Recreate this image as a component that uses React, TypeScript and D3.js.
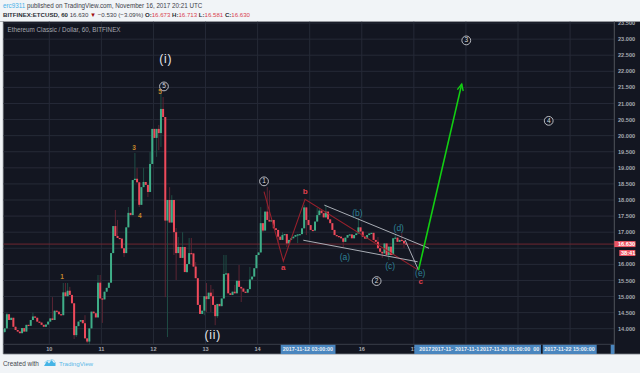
import React from "react";
import * as d3 from "d3";

// Hourly closes; each candle opens at the previous close.
const firstOpen = 13.9;
const closes = [
  14.01, 14.45, 14.27, 14.34, 14.06, 13.96, 13.91, 13.86, 14.02, 13.91, 14.12, 14.09, 14.27, 14.38, 14.34, 14.22,
  14.19, 14.12, 14.06, 14.13, 14.22, 14.32, 14.27, 14.56, 14.53, 14.45, 14.42, 15.13, 15.01, 15.18, 15.05, 14.79,
  13.8, 14.08, 14.22, 14.27, 14.17, 13.7, 13.6, 14.01, 14.53, 14.48, 14.35, 15.43, 14.94, 14.91, 15.15, 15.27,
  15.43, 16.35, 17.19, 16.88, 16.82, 16.8, 16.5, 16.35, 17.15, 17.6, 17.53, 18.62, 18.66, 18.55, 17.85, 18.4,
  18.56, 18.47, 18.25, 19.12, 20.21, 19.93, 20.21, 20.08, 20.83, 20.58, 17.36, 18.0, 17.3, 18.0, 17.0, 16.35,
  16.54, 16.2, 16.54, 15.76, 16.01, 16.35, 16.34, 15.93, 15.57, 14.74, 14.46, 14.56, 15.01, 14.92, 15.12, 15.01,
  14.74, 14.39, 14.77, 14.7, 14.94, 15.7, 15.72, 15.1, 15.05, 15.15, 15.1, 15.49, 15.3, 15.25, 15.15, 15.12,
  15.23, 15.53, 15.62, 15.88, 16.29, 16.37, 17.28, 17.05, 17.64, 17.38, 17.33, 17.38, 17.12, 17.07, 16.86, 16.76,
  16.91, 16.94, 16.65, 16.76, 16.81, 16.86, 16.91, 16.93, 16.94, 17.12, 17.77, 17.38, 17.22, 17.07, 17.05, 17.33,
  17.53, 17.67, 17.59, 17.46, 17.64, 17.4, 17.28, 17.07, 16.91, 16.88, 16.86, 16.81, 16.7, 16.83, 16.91, 16.93,
  16.81, 16.91, 16.96, 17.15, 17.02, 16.86, 16.8, 16.91, 16.96, 16.98, 16.76, 16.7, 16.5, 16.39, 16.34, 16.65,
  16.29, 16.55, 16.29, 16.81, 16.83, 16.7, 16.76, 16.73, 16.65, 16.63,
];
// Candles with a visible wick: [candle, price]
const wickHighs = [
  [1, 14.5], [13, 14.5], [22, 14.98], [27, 15.42], [28, 15.42], [29, 15.42], [30, 15.3], [37, 14.42], [43, 15.67],
  [44, 15.67], [45, 14.95], [51, 17.69], [52, 17.38], [57, 17.78], [60, 19.46], [61, 19.0], [64, 19.0], [67, 19.49],
  [71, 20.33], [72, 21.42], [73, 21.2], [76, 18.4], [77, 18.15], [79, 17.13], [80, 16.85], [82, 17.0], [85, 16.82],
  [86, 16.82], [88, 16.07], [93, 15.42], [95, 15.36], [96, 15.23], [101, 16.29], [102, 16.29], [106, 15.36],
  [108, 15.98], [113, 15.92], [118, 17.78], [121, 18.4], [122, 18.3], [128, 17.0], [138, 17.85], [144, 17.75],
  [145, 17.75], [148, 17.85], [163, 17.44], [172, 16.85], [180, 16.91], [183, 16.97],
];
const wickLows = [
  [0, 13.87], [32, 13.68], [33, 13.74], [38, 13.55], [39, 13.49], [45, 14.18], [55, 16.23], [62, 17.78], [66, 18.09],
  [70, 19.34], [71, 19.55], [72, 19.65], [74, 14.98], [75, 13.74], [78, 16.29], [79, 15.51], [84, 15.73], [92, 14.42],
  [93, 14.52], [95, 14.52], [97, 14.11], [98, 14.33], [109, 14.83], [119, 17.0], [126, 16.66], [130, 16.54],
  [135, 16.66], [139, 16.91], [156, 16.54], [173, 16.45], [174, 16.2], [177, 16.13], [184, 16.51],
];

const priceTicks = [14, 14.5, 15, 15.5, 16, 17, 17.5, 18, 18.5, 19, 19.5, 20, 20.5, 21, 21.5, 22, 22.5, 23, 23.5];
const gridPrices = [...priceTicks, 16.5];
const firstDayCandle = 20.55;
const dayLines = ["10", "11", "12", "13", "14", "15", "16", "17", "18", "19", "20"];
const shownDays = ["10", "11", "12", "13", "14", "16", "17"];
const lastPrice = 16.63;

// Drawings, as [candle, price]
const redWave = [[119.5, 18.26], [128.4, 16.1], [138.4, 18.02], [190.7, 15.82]];
const channelTop = [[147.3, 17.84], [195.5, 16.5]];
const channelBottom = [[137.6, 16.75], [190.3, 16.08]];
const greyLeg = [[184.5, 16.76], [190.7, 15.82]];
const greenLeg = [[190.7, 15.82], [210.6, 21.6]];

const circled: [number, number, string][] = [
  [73.4, 21.53, "5"], [119.5, 18.58, "1"], [171.4, 15.48, "2"], [212.7, 22.96, "3"], [250.7, 20.46, "4"],
];
const orangeLabels: [number, number, string][] = [
  [71.6, 21.36, "5"], [59.6, 19.62, "3"], [62.3, 17.48, "4"], [26.4, 15.6, "1"],
];
const redLabels: [number, number, string][] = [[128.4, 15.88, "a"], [138.5, 18.24, "b"], [191.7, 15.47, "c"]];
const tealLabels: [number, number, string][] = [
  [156.8, 16.19, "(a)"], [162.5, 17.56, "(b)"], [177.6, 15.91, "(c)"], [181.6, 17.12, "(d)"], [191.5, 15.72, "(e)"],
];
const whiteLabels: [number, number, string][] = [[74.2, 22.35, "(i)"], [95.9, 13.79, "(ii)"]];

const axisBoxes: [number, number][] = [[280.7, 335.5], [414.3, 541], [542.7, 596.7], [610.7, 614.3]];
const axisBoxTexts: [number, string][] = [
  [282.7, "2017-11-12 03:00:00"], [419.3, "2017"], [431.7, "2017-11-"], [455, "2017-11-1"],
  [480, "2017-11-20 01:00:00"], [533.3, "00"], [544.3, "2017-11-22 15:00:00"],
];

const W = 640, H = 373;
const L = 3.3, R = 614.3, T = 21.5, AXIS = 344.3, B = 354;
const BG = "#131621", GRID = "#262a37", UP = "#3fae88", DOWN = "#ee4a5b", UPW = "#1f4d45", DOWNW = "#5c2533";
const SANS = "'Liberation Sans', Arial, sans-serif";

const x = d3.scaleLinear().domain([0, 100]).range([4.7, 221.7]);
const y = d3.scaleLinear().domain([14, 18]).range([328.7, 200]);
const line = d3.line<number[]>().x((d) => x(d[0])).y((d) => y(d[1]));
const fmt = d3.format(".3f");

export default function App() {
  const highs = new Map(wickHighs as [number, number][]);
  const lows = new Map(wickLows as [number, number][]);
  const candles = closes.map((c, i) => {
    const o = i === 0 ? firstOpen : closes[i - 1];
    return { i, o, c, h: highs.get(i) ?? Math.max(o, c), l: lows.get(i) ?? Math.min(o, c) };
  });
  const dayX = new Map(dayLines.map((d, k) => [d, x(firstDayCandle + 24 * k)]));
  const tip = greenLeg[1];
  const [tx, ty] = [x(tip[0]), y(tip[1])];
  const [fx, fy] = [x(greenLeg[0][0]), y(greenLeg[0][1])];
  const ang = Math.atan2(ty - fy, tx - fx);
  const head = [ang + 2.7, ang - 2.7].map((a) => [tx + 7 * Math.cos(a), ty + 7 * Math.sin(a)]);

  return (
    <svg width={W} height={H} viewBox={`0 0 ${W} ${H}`}
      style={{ position: "fixed", left: 0, top: 0, fontFamily: SANS, background: "#f1f4f7" }}>
      <defs>
        <clipPath id="plot"><rect x={L} y={T} width={R - L} height={AXIS - T} /></clipPath>
        <clipPath id="chart"><rect x={L} y={T} width={W - L} height={B - T} /></clipPath>
      </defs>

      <text x={3} y={8.3} fontSize={6.28} fill="#3c4048">
        <tspan fill="#45b0e8">erc9311</tspan> published on TradingView.com, November 16, 2017 20:21 UTC
      </text>
      <text x={3} y={17} fontSize={6.1} fill="#3c4048">
        <tspan fontWeight="bold" fill="#2a2d33">BITFINEX:ETCUSD, 60</tspan> 16.630{" "}
        <tspan fill="#a01010">▼</tspan> −0.530 (−3.09%){" "}
        <tspan fontWeight="bold" fill="#2a2d33">O:</tspan><tspan fill="#d9434f">16.673</tspan>{" "}
        <tspan fontWeight="bold" fill="#2a2d33">H:</tspan><tspan fill="#d9434f">16.713</tspan>{" "}
        <tspan fontWeight="bold" fill="#2a2d33">L:</tspan><tspan fill="#d9434f">16.581</tspan>{" "}
        <tspan fontWeight="bold" fill="#2a2d33">C:</tspan><tspan fill="#d9434f">16.630</tspan>
      </text>

      <rect x={L} y={T} width={W - L} height={B - T} fill={BG} />
      <line x1={0} x2={W} y1={T} y2={T} stroke="#9a9da3" strokeWidth={0.8} />
      <line x1={L} x2={L} y1={T} y2={B} stroke="#5a5e66" strokeWidth={0.8} />
      <line x1={L} x2={W} y1={B} y2={B} stroke="#7a7e86" strokeWidth={0.8} />

      <g clipPath="url(#plot)">
        {gridPrices.map((p) => <line key={p} x1={L} x2={R} y1={y(p)} y2={y(p)} stroke={GRID} strokeWidth={1} />)}
        {dayLines.map((d) => <line key={d} x1={dayX.get(d)} x2={dayX.get(d)} y1={T} y2={AXIS} stroke={GRID} strokeWidth={1} />)}
        <line x1={L} x2={R} y1={y(lastPrice)} y2={y(lastPrice)} stroke="#6e2631" strokeWidth={1} />

        {candles.map((k) => (
          <line key={`w${k.i}`} x1={x(k.i)} x2={x(k.i)} y1={y(k.h)} y2={y(k.l)}
            stroke={k.c >= k.o ? UPW : DOWNW} strokeWidth={1} />
        ))}
        {candles.map((k) => (
          <rect key={`b${k.i}`} x={x(k.i) - 1} width={2}
            y={y(Math.max(k.o, k.c))} height={Math.max(1.2, Math.abs(y(k.o) - y(k.c)))}
            fill={k.c >= k.o ? UP : DOWN} />
        ))}

        <path d={line(redWave) ?? ""} fill="none" stroke="#96202c" strokeWidth={1.1} />
        <path d={line(channelTop) ?? ""} fill="none" stroke="#a9adb5" strokeWidth={1} />
        <path d={line(channelBottom) ?? ""} fill="none" stroke="#a9adb5" strokeWidth={1} />
        <path d={line(greyLeg) ?? ""} fill="none" stroke="#a9adb5" strokeWidth={1} />
        <path d={line(greenLeg) ?? ""} fill="none" stroke="#12cf12" strokeWidth={1.6} />
        <path d={`M${head[0][0]},${head[0][1]}L${tx},${ty}L${head[1][0]},${head[1][1]}`} fill="none" stroke="#12cf12" strokeWidth={1.4} />

        {orangeLabels.map(([i, p, t]) => (
          <text key={`o${t}`} x={x(i)} y={y(p)} fontSize={6.5} fontWeight="bold" fill="#c6862b" textAnchor="middle" dominantBaseline="middle">{t}</text>
        ))}
        {circled.map(([i, p, t]) => (
          <g key={`c${t}`}>
            <circle cx={x(i)} cy={y(p)} r={4.4} fill={t === "5" ? "none" : BG} stroke="#c9ccd2" strokeWidth={0.9} />
            <text x={x(i)} y={y(p) + 0.3} fontSize={6.5} fill="#d8dade" textAnchor="middle" dominantBaseline="middle">{t}</text>
          </g>
        ))}
        {tealLabels.map(([i, p, t]) => (
          <text key={t} x={x(i)} y={y(p)} fontSize={8.5} fill="#2e8297" textAnchor="middle" dominantBaseline="middle">{t}</text>
        ))}
        {redLabels.map(([i, p, t]) => (
          <text key={t} x={x(i)} y={y(p)} fontSize={8} fontWeight="bold" fill="#e0404e" textAnchor="middle" dominantBaseline="middle">{t}</text>
        ))}
        {whiteLabels.map(([i, p, t]) => (
          <text key={t} x={x(i)} y={y(p)} fontSize={12} fill="#e6e8ec" letterSpacing={0.8} textAnchor="middle" dominantBaseline="middle">{t}</text>
        ))}
      </g>

      <text x={7.5} y={32} fontSize={6.3} fill="#a5a8b0">Ethereum Classic / Dollar, 60, BITFINEX</text>

      {/* price axis */}
      <line x1={R} x2={R} y1={T} y2={B} stroke="#50545c" strokeWidth={1} />
      <g clipPath="url(#chart)">
        {priceTicks.map((p) => (
          <text key={p} x={618} y={y(p) + 2.1} fontSize={5.6} fontWeight="bold" fill="#a6a9b0">{fmt(p)}</text>
        ))}
      </g>
      <rect x={R} y={y(lastPrice) - 3} width={21.2} height={6} fill="#ea5462" />
      <text x={618} y={y(lastPrice) + 2.1} fontSize={5.6} fontWeight="bold" fill="#ffffff">{fmt(lastPrice)}</text>
      <rect x={619.3} y={250} width={16} height={6} fill="#ea5462" />
      <text x={621} y={255} fontSize={5.6} fontWeight="bold" fill="#ffffff">38:41</text>

      {/* time axis */}
      <line x1={L} x2={R} y1={AXIS} y2={AXIS} stroke="#3a3e49" strokeWidth={1} />
      {shownDays.map((d) => (
        <text key={d} x={dayX.get(d)} y={351.4} fontSize={5.6} fontWeight="bold" fill="#a6a9b0" textAnchor="middle">{d}</text>
      ))}
      {axisBoxes.map(([a, b]) => (
        <rect key={a} x={a} y={AXIS + 0.5} width={b - a} height={B - AXIS - 0.5} fill="#4a86bf" />
      ))}
      {axisBoxTexts.map(([px, t], n) => (
        <text key={n} x={px} y={351.4} fontSize={5.4} fontWeight="bold" fill="#e8edf3">{t}</text>
      ))}

      <text x={3} y={366} fontSize={6.4} fill="#45484f">Created with</text>
      <path d="M44,366 L47,361 L49,363.5 L51.5,360 L54,363 L55.5,362 L55.5,366 Z" fill="#45b4e6" />
      <path d="M44.5,363 Q47,359 49.5,361 Q51.5,358 55,361.5" fill="none" stroke="#8fd4f2" strokeWidth={1} />
      <text x={59} y={366} fontSize={6.2} fill="#5bb8e8">TradingView</text>
    </svg>
  );
}
